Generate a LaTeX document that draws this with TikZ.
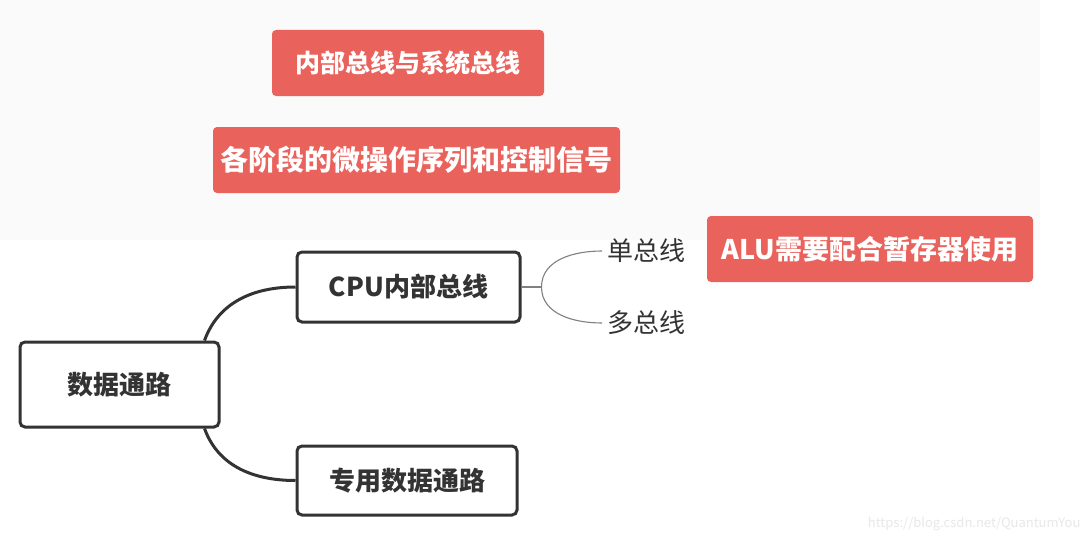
\documentclass[tikz,border=0pt]{standalone}
\usepackage{fontspec}
\setmainfont{Noto Sans CJK SC}
\usetikzlibrary{positioning}

\definecolor{tagred}{RGB}{234,98,92}
\definecolor{inkgray}{RGB}{51,51,51}

\tikzset{
  whitebox/.style={draw=inkgray, line width=3pt, rounded corners=5pt, fill=white,
    font=\bfseries\fontsize{26}{29}\selectfont, text=inkgray},
  redbox/.style={fill=tagred, rounded corners=4pt,
    font=\bfseries\fontsize{25}{28}\selectfont, text=white},
  leaf/.style={font=\fontsize{26}{29}\selectfont, text=inkgray, inner sep=1pt},
  branch/.style={draw=inkgray, line width=3pt},
  twig/.style={draw=black!50, line width=1.1pt}
}

\begin{document}
\begin{tikzpicture}[x=1pt,y=-1pt]
  \useasboundingbox (0,0) rectangle (1090,543);
  \fill[white] (0,0) rectangle (1090,543);
  \fill[black!2] (0,0) rectangle (1040,240);

  % 主干
  \node[whitebox, minimum width=199pt, minimum height=85pt] (dp) at (119.5,384.5) {数据通路};
  \node[whitebox, minimum width=223pt, minimum height=70pt] (cpu) at (408.5,287) {CPU内部总线};
  \node[whitebox, minimum width=220pt, minimum height=69pt] (zy) at (407,480.5) {专用数据通路};

  % 分支
  \node[leaf, anchor=west] (dan) at (606,251) {单总线};
  \node[leaf, anchor=west] (duo) at (606,323) {多总线};

  % 红色标签
  \node[redbox, minimum width=272pt, minimum height=66pt] (nbzx) at (408,63) {内部总线与系统总线};
  \node[redbox, minimum width=407pt, minimum height=66pt, font=\bfseries\fontsize{28}{30}\selectfont]
    (jdxh) at (416.5,160) {各阶段的微操作序列和控制信号};
  \node[redbox, minimum width=326pt, minimum height=66pt, font=\bfseries\fontsize{27}{30}\selectfont]
    (alu) at (870,249) {ALU需要配合暂存器使用};

  % 连线
  \draw[branch] ([xshift=-16pt]dp.north east) to[out=70,in=180] (cpu.west);
  \draw[branch] ([xshift=-16pt]dp.south east) to[out=-70,in=180] (zy.west);
  \draw[twig] (cpu.east) -- ++(20,0) coordinate (fk);
  \draw[twig] (fk) to[out=90,in=180] ([xshift=-4pt]dan.west);
  \draw[twig] (fk) to[out=-90,in=180] ([xshift=-4pt]duo.west);

  % 水印
  \node[anchor=east, text=black!9, font=\fontsize{13}{14}\selectfont] (wm) at (1084,524)
    {https://blog.csdn.net/QuantumYou};
\end{tikzpicture}
\end{document}
